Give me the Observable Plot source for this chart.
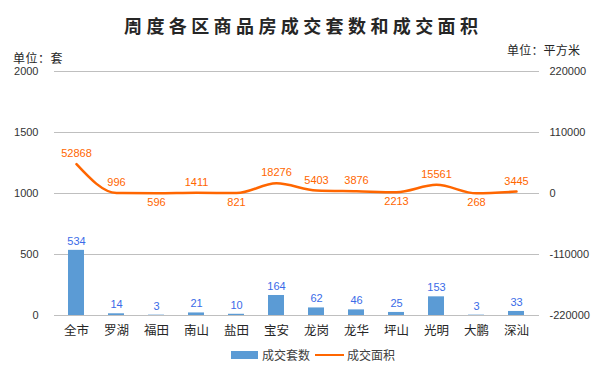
<!DOCTYPE html>
<html>
<head>
<meta charset="utf-8">
<script src="https://cdn.jsdelivr.net/npm/d3@7"></script>
<script src="https://cdn.jsdelivr.net/npm/@observablehq/plot@0.6"></script>
<style>
  html, body { margin: 0; padding: 0; background: #fff; }
  #wrap { position: relative; width: 603px; height: 370px; overflow: hidden; font-family: "Noto Sans CJK SC", sans-serif; }
  .abs { position: absolute; white-space: nowrap; }
  #chart { position: absolute; left: 0; top: 0; }
</style>
</head>
<body>
<div id="wrap">
  <div id="chart"></div>
  <div class="abs" id="title" style="left:124px; top:14px; font-size:18px; line-height:22px; letter-spacing:4.4px; font-weight:700; color:#262626;">周度各区商品房成交套数和成交面积</div>
  <div class="abs" id="unitL" style="left:13px; top:50px; font-size:12px; line-height:15px; letter-spacing:0.5px; color:#262626;">单位：套</div>
  <div class="abs" id="unitR" style="left:507px; top:42px; font-size:12px; line-height:15px; letter-spacing:0.2px; color:#262626;">单位：平方米</div>
  <div class="abs" id="legend" style="left:231px; top:346px; height:18px; font-size:12px; line-height:18px; color:#404040; display:flex; align-items:center;">
    <span style="display:inline-block; width:27px; height:8px; background:#5B9BD5; margin-right:4px;"></span><span id="lg1"></span>
    <span style="display:inline-block; width:29px; height:2.5px; background:#FF6600; margin:0 3px 0 5px;"></span><span id="lg2"></span>
  </div>
</div>
<script>
const categories = ["全市","罗湖","福田","南山","盐田","宝安","龙岗","龙华","坪山","光明","大鹏","深汕"];
const units = [534, 14, 3, 21, 10, 164, 62, 46, 25, 153, 3, 33];
const areas = [52868, 996, 596, 1411, 821, 18276, 5403, 3876, 2213, 15561, 268, 3445];
const areaLabelBelow = [false, false, true, false, true, false, false, false, true, false, true, false];
const leftTicks = [0, 500, 1000, 1500, 2000];
const rightDomain = [-220000, 220000];
const seriesNames = ["成交套数", "成交面积"];

document.getElementById("lg1").textContent = seriesNames[0];
document.getElementById("lg2").textContent = seriesNames[1];

const leftMax = 2000;
const toLeft = a => (a - rightDomain[0]) / (rightDomain[1] - rightDomain[0]) * leftMax;
const toRight = v => Math.round(v / leftMax * (rightDomain[1] - rightDomain[0]) + rightDomain[0]);

const data = categories.map((c, i) => ({cat: c, units: units[i], area: areas[i], below: areaLabelBelow[i]}));

const numFont = "'Liberation Sans', Arial, sans-serif";

const chart = Plot.plot({
  width: 603,
  height: 370,
  marginLeft: 54,
  marginRight: 64,
  marginTop: 71,
  marginBottom: 55,
  style: {fontFamily: numFont, fontSize: "11px", color: "#333", background: "transparent"},
  x: {type: "band", domain: categories, paddingInner: 0.59, paddingOuter: 0.295, label: null},
  y: {domain: [0, leftMax], label: null},
  marks: [
    Plot.gridY(leftTicks, {stroke: "#bfbfbf", strokeOpacity: 1, strokeWidth: 1}),
    Plot.barY(data, {x: "cat", y: "units", fill: "#5B9BD5"}),
    Plot.line(data, {x: "cat", y: d => toLeft(d.area), stroke: "#FF6600", strokeWidth: 2.5, curve: "monotone-x"}),
    Plot.text(data, {x: "cat", y: "units", text: d => String(d.units), dy: -9, fill: "#3A6BE8", fontFamily: numFont, fontSize: 11}),
    Plot.text(data.filter(d => !d.below), {x: "cat", y: d => toLeft(d.area), text: d => String(d.area), dy: -10.5, fill: "#FF6600", fontFamily: numFont, fontSize: 11}),
    Plot.text(data.filter(d => d.below), {x: "cat", y: d => toLeft(d.area), text: d => String(d.area), dy: 9.5, fill: "#FF6600", fontFamily: numFont, fontSize: 11}),
    Plot.axisY(leftTicks, {anchor: "left", tickSize: 0, tickPadding: 16, label: null, tickFormat: d => String(d), fill: "#333"}),
    Plot.axisY(leftTicks, {anchor: "right", tickSize: 0, tickPadding: 10, label: null, tickFormat: d => String(toRight(d)), fill: "#333"}),
    Plot.axisX({tickSize: 0, tickPadding: 11, label: null, fontSize: 12.5, fontFamily: "'Noto Sans CJK SC', sans-serif", fill: "#262626"})
  ]
});
document.getElementById("chart").appendChild(chart);
</script>
</body>
</html>
